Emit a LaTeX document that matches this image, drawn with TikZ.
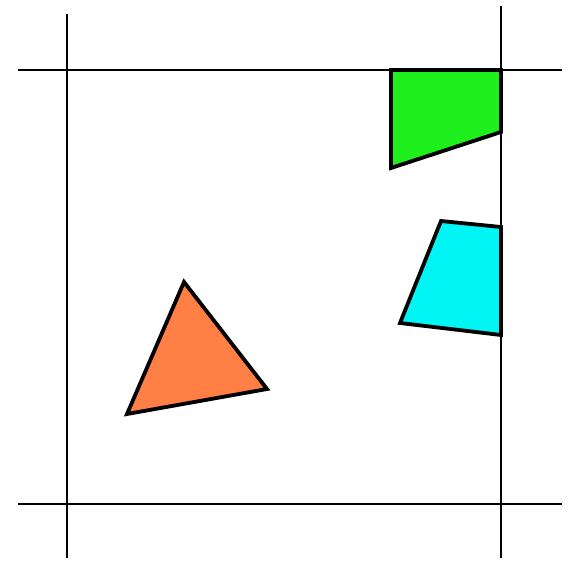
\documentclass[tikz,border=0pt]{standalone}
\usepackage{tikz}
\usetikzlibrary{calc}
\usepackage{xcolor}
\definecolor{clipgreen}{HTML}{1EF01E}
\definecolor{clipcyan}{HTML}{00F5F5}
\definecolor{cliporange}{HTML}{FF7F45}

\begin{document}
\begin{tikzpicture}[x=1pt, y=-1pt,
    edge/.style={draw=black, line width=1.8pt},
    poly/.style={draw=black, line width=3.8pt, line join=miter}]
      \useasboundingbox (0,0) rectangle (569,563);
      % clipping window
      \draw[edge] (67,14) -- (67,558);
      \draw[edge] (501,6) -- (501,558);
      \draw[edge] (18,70) -- (562,70);
      \draw[edge] (18,504) -- (562,504);
      % polygons
      \filldraw[poly, fill=clipgreen] (391,70) -- (391,168) -- (501,132) -- (501,70) -- cycle;
      \filldraw[poly, fill=clipcyan] (441,221) -- (501,227) -- (501,335) -- (400,323) -- cycle;
      \filldraw[poly, fill=cliporange] (184,282) -- (267,389) -- (127,414) -- cycle;
      % redraw window edges over fills
      \draw[edge] (501,6) -- (501,558);
      \draw[edge] (18,70) -- (562,70);
    \end{tikzpicture}
\end{document}
